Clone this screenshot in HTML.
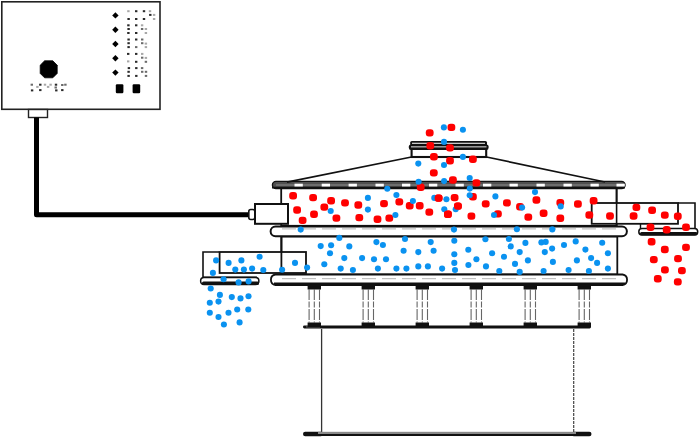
<!DOCTYPE html>
<html><head><meta charset="utf-8"><style>
html,body{margin:0;padding:0;background:#fff;width:700px;height:441px;overflow:hidden}
svg{display:block}
</style></head><body>
<svg width="700" height="441" viewBox="0 0 700 441">
<!-- control box -->
<rect x="1.8" y="1.8" width="158.2" height="107.5" fill="#fff" stroke="#222" stroke-width="1.6"/>
<polygon points="44.6,60.8 52.8,60.8 57.2,65.2 57.2,73.4 52.8,77.8 44.6,77.8 40.2,73.4 40.2,65.2" fill="#000" stroke="#000" stroke-width="0.8" stroke-linejoin="round"/>
<rect x="30.6" y="83.7" width="2.4" height="2" fill="#6a6a6a"/><rect x="39.1" y="83.7" width="2.4" height="2" fill="#2a2a2a"/><rect x="43.8" y="83.7" width="2.4" height="2" fill="#a8a8a8"/><rect x="49.4" y="83.7" width="2.4" height="2" fill="#a8a8a8"/><rect x="54.8" y="83.7" width="2.4" height="2" fill="#2a2a2a"/><rect x="61.1" y="84.0" width="2.4" height="2" fill="#6a6a6a"/><rect x="64.2" y="83.7" width="2.4" height="2" fill="#6a6a6a"/><rect x="36.2" y="85.9" width="2.4" height="2" fill="#a8a8a8"/><rect x="46.9" y="85.9" width="2.4" height="2" fill="#a8a8a8"/><rect x="54.5" y="86.5" width="2.4" height="2" fill="#6a6a6a"/><rect x="30.9" y="89.4" width="2.4" height="2" fill="#2a2a2a"/><rect x="39.1" y="89.1" width="2.4" height="2" fill="#2a2a2a"/><rect x="55.1" y="89.4" width="2.4" height="2" fill="#2a2a2a"/><rect x="61.1" y="89.1" width="2.4" height="2" fill="#2a2a2a"/>
<g fill="#000">
<polygon points="115.4,12.2 118.6,15.4 115.4,18.6 112.2,15.4"/>
<polygon points="115.4,26.5 118.6,29.7 115.4,32.9 112.2,29.7"/>
<polygon points="115.4,40.8 118.6,44.0 115.4,47.2 112.2,44.0"/>
<polygon points="115.4,55.1 118.6,58.3 115.4,61.5 112.2,58.3"/>
<polygon points="115.4,69.4 118.6,72.6 115.4,75.8 112.2,72.6"/>
</g>
<rect x="127.2" y="10.2" width="2.4" height="2" fill="#a8a8a8"/><rect x="135.0" y="10.2" width="2.4" height="2" fill="#2a2a2a"/><rect x="142.8" y="10.2" width="2.4" height="2" fill="#2a2a2a"/><rect x="148.8" y="10.2" width="2.4" height="2" fill="#a8a8a8"/><rect x="149.1" y="13.9" width="2.4" height="2" fill="#2a2a2a"/><rect x="152.9" y="13.9" width="2.4" height="2" fill="#a8a8a8"/><rect x="127.4" y="18.0" width="2.4" height="2" fill="#2a2a2a"/><rect x="135.0" y="18.0" width="2.4" height="2" fill="#2a2a2a"/><rect x="142.8" y="18.0" width="2.4" height="2" fill="#2a2a2a"/><rect x="152.9" y="18.0" width="2.4" height="2" fill="#a8a8a8"/><rect x="127.2" y="24.3" width="2.4" height="2" fill="#2a2a2a"/><rect x="135.0" y="24.3" width="2.4" height="2" fill="#2a2a2a"/><rect x="140.9" y="24.3" width="2.4" height="2" fill="#a8a8a8"/><rect x="127.4" y="28.0" width="2.4" height="2" fill="#2a2a2a"/><rect x="140.9" y="28.0" width="2.4" height="2" fill="#6a6a6a"/><rect x="144.7" y="28.0" width="2.4" height="2" fill="#a8a8a8"/><rect x="127.2" y="32.0" width="2.4" height="2" fill="#2a2a2a"/><rect x="135.0" y="32.0" width="2.4" height="2" fill="#2a2a2a"/><rect x="144.7" y="32.0" width="2.4" height="2" fill="#a8a8a8"/><rect x="127.4" y="38.5" width="2.4" height="2" fill="#2a2a2a"/><rect x="135.0" y="38.5" width="2.4" height="2" fill="#2a2a2a"/><rect x="141.0" y="38.5" width="2.4" height="2" fill="#6a6a6a"/><rect x="127.4" y="42.2" width="2.4" height="2" fill="#2a2a2a"/><rect x="141.0" y="42.2" width="2.4" height="2" fill="#6a6a6a"/><rect x="144.7" y="42.6" width="2.4" height="2" fill="#a8a8a8"/><rect x="127.4" y="46.1" width="2.4" height="2" fill="#2a2a2a"/><rect x="135.0" y="46.1" width="2.4" height="2" fill="#6a6a6a"/><rect x="144.7" y="46.1" width="2.4" height="2" fill="#a8a8a8"/><rect x="127.0" y="52.9" width="2.4" height="2" fill="#2a2a2a"/><rect x="135.0" y="52.9" width="2.4" height="2" fill="#2a2a2a"/><rect x="141.0" y="52.9" width="2.4" height="2" fill="#a8a8a8"/><rect x="141.0" y="56.7" width="2.4" height="2" fill="#6a6a6a"/><rect x="144.7" y="56.9" width="2.4" height="2" fill="#a8a8a8"/><rect x="127.0" y="60.4" width="2.4" height="2" fill="#a8a8a8"/><rect x="135.0" y="60.8" width="2.4" height="2" fill="#2a2a2a"/><rect x="144.7" y="60.8" width="2.4" height="2" fill="#6a6a6a"/><rect x="127.7" y="67.1" width="2.4" height="2" fill="#2a2a2a"/><rect x="135.1" y="67.1" width="2.4" height="2" fill="#2a2a2a"/><rect x="140.9" y="67.1" width="2.4" height="2" fill="#6a6a6a"/><rect x="127.4" y="70.8" width="2.4" height="2" fill="#2a2a2a"/><rect x="141.0" y="70.8" width="2.4" height="2" fill="#6a6a6a"/><rect x="144.8" y="70.8" width="2.4" height="2" fill="#6a6a6a"/><rect x="127.4" y="74.9" width="2.4" height="2" fill="#2a2a2a"/><rect x="135.1" y="74.9" width="2.4" height="2" fill="#2a2a2a"/><rect x="144.8" y="74.9" width="2.4" height="2" fill="#6a6a6a"/>
<rect x="115.8" y="84.2" width="7.6" height="9.1" rx="1.2" fill="#000"/>
<rect x="132.6" y="84.2" width="7.6" height="9.1" rx="1.2" fill="#000"/>
<!-- connector -->
<rect x="28.5" y="109.5" width="19" height="8" fill="#fff" stroke="#222" stroke-width="1.4"/>
<!-- cable -->
<path d="M36.5,117.5 V214.7 H249" fill="none" stroke="#000" stroke-width="5" stroke-linejoin="round"/>
<!-- stand -->
<line x1="321.6" y1="329" x2="321.6" y2="433" stroke="#333" stroke-width="1.3"/>
<line x1="573.7" y1="329" x2="573.7" y2="433" stroke="#444" stroke-width="1.2" stroke-dasharray="3,1"/>
<rect x="303" y="431.8" width="20" height="4.5" rx="2.2" fill="#111"/><rect x="571.5" y="431.8" width="20" height="4.5" rx="2.2" fill="#111"/>
<rect x="318" y="431.8" width="258" height="2.2" fill="#8a8a8a"/><rect x="318" y="434" width="258" height="2" fill="#111"/>
<!-- base ring -->
<rect x="303" y="325.6" width="288" height="2.9" rx="1.4" fill="#111"/>
<line x1="306" y1="326.9" x2="320" y2="326.9" stroke="#888" stroke-width="0.8"/>
<rect x="307.6" y="284" width="13.4" height="5.5" fill="#111"/>
<rect x="307.6" y="322.5" width="13.4" height="4.5" fill="#111"/>
<line x1="309.1" y1="289" x2="309.1" y2="323" stroke="#666" stroke-width="1.1" stroke-dasharray="11,1.5,6,1.5"/>
<line x1="314.3" y1="289" x2="314.3" y2="323" stroke="#666" stroke-width="1.1" stroke-dasharray="11,1.5,6,1.5"/>
<line x1="319.5" y1="289" x2="319.5" y2="323" stroke="#666" stroke-width="1.1" stroke-dasharray="11,1.5,6,1.5"/>
<line x1="314.3" y1="282" x2="314.3" y2="284" stroke="#111" stroke-width="1"/>
<rect x="361.6" y="284" width="13.4" height="5.5" fill="#111"/>
<rect x="361.6" y="322.5" width="13.4" height="4.5" fill="#111"/>
<line x1="363.1" y1="289" x2="363.1" y2="323" stroke="#666" stroke-width="1.1" stroke-dasharray="11,1.5,6,1.5"/>
<line x1="368.3" y1="289" x2="368.3" y2="323" stroke="#666" stroke-width="1.1" stroke-dasharray="11,1.5,6,1.5"/>
<line x1="373.5" y1="289" x2="373.5" y2="323" stroke="#666" stroke-width="1.1" stroke-dasharray="11,1.5,6,1.5"/>
<line x1="368.3" y1="282" x2="368.3" y2="284" stroke="#111" stroke-width="1"/>
<rect x="415.6" y="284" width="13.4" height="5.5" fill="#111"/>
<rect x="415.6" y="322.5" width="13.4" height="4.5" fill="#111"/>
<line x1="417.1" y1="289" x2="417.1" y2="323" stroke="#666" stroke-width="1.1" stroke-dasharray="11,1.5,6,1.5"/>
<line x1="422.3" y1="289" x2="422.3" y2="323" stroke="#666" stroke-width="1.1" stroke-dasharray="11,1.5,6,1.5"/>
<line x1="427.5" y1="289" x2="427.5" y2="323" stroke="#666" stroke-width="1.1" stroke-dasharray="11,1.5,6,1.5"/>
<line x1="422.3" y1="282" x2="422.3" y2="284" stroke="#111" stroke-width="1"/>
<rect x="469.6" y="284" width="13.4" height="5.5" fill="#111"/>
<rect x="469.6" y="322.5" width="13.4" height="4.5" fill="#111"/>
<line x1="471.1" y1="289" x2="471.1" y2="323" stroke="#666" stroke-width="1.1" stroke-dasharray="11,1.5,6,1.5"/>
<line x1="476.3" y1="289" x2="476.3" y2="323" stroke="#666" stroke-width="1.1" stroke-dasharray="11,1.5,6,1.5"/>
<line x1="481.5" y1="289" x2="481.5" y2="323" stroke="#666" stroke-width="1.1" stroke-dasharray="11,1.5,6,1.5"/>
<line x1="476.3" y1="282" x2="476.3" y2="284" stroke="#111" stroke-width="1"/>
<rect x="523.6" y="284" width="13.4" height="5.5" fill="#111"/>
<rect x="523.6" y="322.5" width="13.4" height="4.5" fill="#111"/>
<line x1="525.1" y1="289" x2="525.1" y2="323" stroke="#666" stroke-width="1.1" stroke-dasharray="11,1.5,6,1.5"/>
<line x1="530.3000000000001" y1="289" x2="530.3000000000001" y2="323" stroke="#666" stroke-width="1.1" stroke-dasharray="11,1.5,6,1.5"/>
<line x1="535.5" y1="289" x2="535.5" y2="323" stroke="#666" stroke-width="1.1" stroke-dasharray="11,1.5,6,1.5"/>
<line x1="530.3000000000001" y1="282" x2="530.3000000000001" y2="284" stroke="#111" stroke-width="1"/>
<rect x="577.6" y="284" width="13.4" height="5.5" fill="#111"/>
<rect x="577.6" y="322.5" width="13.4" height="4.5" fill="#111"/>
<line x1="579.1" y1="289" x2="579.1" y2="323" stroke="#666" stroke-width="1.1" stroke-dasharray="11,1.5,6,1.5"/>
<line x1="584.3000000000001" y1="289" x2="584.3000000000001" y2="323" stroke="#666" stroke-width="1.1" stroke-dasharray="11,1.5,6,1.5"/>
<line x1="589.5" y1="289" x2="589.5" y2="323" stroke="#666" stroke-width="1.1" stroke-dasharray="11,1.5,6,1.5"/>
<line x1="584.3000000000001" y1="282" x2="584.3000000000001" y2="284" stroke="#111" stroke-width="1"/>

<!-- lower body -->
<rect x="281.4" y="236.5" width="335.9" height="38" fill="#fff" stroke="#111" stroke-width="1.8"/>
<!-- left outlet -->
<path d="M219,252 H203 V277.2 H257" fill="none" stroke="#111" stroke-width="1.6"/>
<rect x="219.6" y="252" width="86.4" height="21" fill="#fff" stroke="#111" stroke-width="1.8"/>
<line x1="281.4" y1="236" x2="281.4" y2="273" stroke="#111" stroke-width="1.8"/>
<path d="M204,277.6 H255.5 A3.4,3.4 0 0 1 255.5,284.4 H204 A3.4,3.4 0 0 1 204,277.6 Z" fill="#fff" stroke="#111" stroke-width="1.5"/>
<rect x="202" y="281.5" width="57" height="3.4" rx="1.5" fill="#111"/>
<!-- bottom flange -->
<path d="M275.5,274.5 H622.5 A5.3,5.3 0 0 1 622.5,285 H275.5 A5.3,5.3 0 0 1 275.5,274.5 Z" fill="#fff" stroke="#111" stroke-width="1.8"/>
<line x1="274" y1="283.5" x2="625" y2="283.5" stroke="#111" stroke-width="1.8"/>
<line x1="282" y1="278.7" x2="616" y2="278.7" stroke="#aaa" stroke-width="0.9" stroke-dasharray="14,6"/>
<!-- upper body -->
<rect x="281.2" y="188" width="335.4" height="37.8" fill="#fff" stroke="#111" stroke-width="1.8"/>
<!-- middle flange -->
<path d="M275.5,226.4 H622 A4.9,4.9 0 0 1 622,236.2 H275.5 A4.9,4.9 0 0 1 275.5,226.4 Z" fill="#fff" stroke="#111" stroke-width="2"/>
<line x1="282" y1="228.9" x2="616" y2="228.9" stroke="#aaa" stroke-width="0.9" stroke-dasharray="14,6"/>
<!-- right outlet -->
<rect x="591.7" y="203" width="86.3" height="20.8" fill="#fff" stroke="#111" stroke-width="1.8"/>
<line x1="616.6" y1="188" x2="616.6" y2="226" stroke="#111" stroke-width="1.6"/>
<path d="M678,203 H695 V229" fill="none" stroke="#111" stroke-width="1.6"/>
<path d="M640.5,224 V228.5" fill="none" stroke="#111" stroke-width="1.4"/>
<path d="M642,228.6 H694.5 A3.2,3.2 0 0 1 694.5,235 H642 A3.2,3.2 0 0 1 642,228.6 Z" fill="#fff" stroke="#111" stroke-width="1.5"/>
<rect x="640" y="232" width="57.5" height="3.2" rx="1.5" fill="#111"/>
<!-- motor -->
<rect x="248.8" y="209.5" width="6" height="10" rx="2" fill="#fff" stroke="#111" stroke-width="1.6"/>
<rect x="255" y="204" width="33" height="19.8" fill="#fff" stroke="#111" stroke-width="2"/>
<!-- lid flange -->
<path d="M276,181.3 H621.5 A3.6,3.6 0 0 1 621.5,188.5 H276 A3.6,3.6 0 0 1 276,181.3 Z" fill="#505050" stroke="#111" stroke-width="1.3"/>
<rect x="276" y="184" width="345" height="2" fill="#6e6e6e"/>
<line x1="272" y1="187.6" x2="625" y2="187.6" stroke="#111" stroke-width="1.8"/>
<rect x="294.5" y="183.7" width="8.3" height="2.8" fill="#fff"/><rect x="321.7" y="183.7" width="8.3" height="2.8" fill="#fff"/><rect x="348.6" y="183.7" width="8.3" height="2.8" fill="#fff"/><rect x="375.5" y="183.7" width="8.3" height="2.8" fill="#fff"/><rect x="402" y="183.7" width="8.3" height="2.8" fill="#fff"/><rect x="429" y="183.7" width="8.3" height="2.8" fill="#fff"/><rect x="455.5" y="183.7" width="8.3" height="2.8" fill="#fff"/><rect x="483" y="183.7" width="8.3" height="2.8" fill="#fff"/><rect x="509.5" y="183.7" width="8.3" height="2.8" fill="#fff"/><rect x="536.5" y="183.7" width="8.3" height="2.8" fill="#fff"/><rect x="563.5" y="183.7" width="8.3" height="2.8" fill="#fff"/><rect x="590.5" y="183.7" width="8.3" height="2.8" fill="#fff"/><rect x="616.5" y="183.7" width="8.3" height="2.8" fill="#fff"/>
<!-- cone -->
<line x1="287" y1="182.2" x2="411.5" y2="157" stroke="#111" stroke-width="1.7"/>
<line x1="486.5" y1="157" x2="605" y2="182" stroke="#111" stroke-width="1.7"/>
<!-- inlet -->
<rect x="411.6" y="148.8" width="74.6" height="8.2" fill="#fff" stroke="#111" stroke-width="2.1"/>
<rect x="410.2" y="141" width="76.8" height="4.8" rx="1.6" fill="#111"/>
<rect x="412" y="142.7" width="73" height="1.3" fill="#c8c8c8"/>
<rect x="408.8" y="144.4" width="79.8" height="5.5" rx="2.2" fill="#111"/>
<rect x="411" y="146.1" width="75.5" height="1.4" fill="#aaa"/>
<!-- dots -->
<rect x="425.8" y="129.2" width="7.8" height="7.4" rx="3" fill="#ff0000"/>
<rect x="447.5" y="123.7" width="7.8" height="7.4" rx="3" fill="#ff0000"/>
<rect x="426.4" y="142.0" width="7.8" height="7.4" rx="3" fill="#ff0000"/>
<rect x="446.1" y="144.2" width="7.8" height="7.4" rx="3" fill="#ff0000"/>
<rect x="430.0" y="153.0" width="7.8" height="7.4" rx="3" fill="#ff0000"/>
<rect x="446.1" y="157.0" width="7.8" height="7.4" rx="3" fill="#ff0000"/>
<rect x="469.0" y="155.6" width="7.8" height="7.4" rx="3" fill="#ff0000"/>
<rect x="429.9" y="169.2" width="7.8" height="7.4" rx="3" fill="#ff0000"/>
<rect x="449.0" y="176.3" width="7.8" height="7.4" rx="3" fill="#ff0000"/>
<rect x="416.8" y="183.5" width="7.8" height="7.4" rx="3" fill="#ff0000"/>
<rect x="472.5" y="179.2" width="7.8" height="7.4" rx="3" fill="#ff0000"/>
<rect x="289.2" y="192.0" width="7.8" height="7.4" rx="3" fill="#ff0000"/>
<rect x="309.2" y="193.9" width="7.8" height="7.4" rx="3" fill="#ff0000"/>
<rect x="327.2" y="197.0" width="7.8" height="7.4" rx="3" fill="#ff0000"/>
<rect x="341.1" y="199.2" width="7.8" height="7.4" rx="3" fill="#ff0000"/>
<rect x="354.4" y="201.3" width="7.8" height="7.4" rx="3" fill="#ff0000"/>
<rect x="320.4" y="203.4" width="7.8" height="7.4" rx="3" fill="#ff0000"/>
<rect x="293.2" y="206.3" width="7.8" height="7.4" rx="3" fill="#ff0000"/>
<rect x="310.1" y="210.6" width="7.8" height="7.4" rx="3" fill="#ff0000"/>
<rect x="298.7" y="216.7" width="7.8" height="7.4" rx="3" fill="#ff0000"/>
<rect x="332.5" y="214.4" width="7.8" height="7.4" rx="3" fill="#ff0000"/>
<rect x="355.4" y="213.9" width="7.8" height="7.4" rx="3" fill="#ff0000"/>
<rect x="373.6" y="215.6" width="7.8" height="7.4" rx="3" fill="#ff0000"/>
<rect x="380.1" y="199.9" width="7.8" height="7.4" rx="3" fill="#ff0000"/>
<rect x="395.4" y="198.2" width="7.8" height="7.4" rx="3" fill="#ff0000"/>
<rect x="405.8" y="202.0" width="7.8" height="7.4" rx="3" fill="#ff0000"/>
<rect x="415.8" y="202.0" width="7.8" height="7.4" rx="3" fill="#ff0000"/>
<rect x="434.7" y="194.4" width="7.8" height="7.4" rx="3" fill="#ff0000"/>
<rect x="450.7" y="193.9" width="7.8" height="7.4" rx="3" fill="#ff0000"/>
<rect x="454.0" y="202.4" width="7.8" height="7.4" rx="3" fill="#ff0000"/>
<rect x="425.4" y="208.4" width="7.8" height="7.4" rx="3" fill="#ff0000"/>
<rect x="444.0" y="210.6" width="7.8" height="7.4" rx="3" fill="#ff0000"/>
<rect x="385.4" y="214.4" width="7.8" height="7.4" rx="3" fill="#ff0000"/>
<rect x="469.0" y="193.0" width="7.8" height="7.4" rx="3" fill="#ff0000"/>
<rect x="481.8" y="200.2" width="7.8" height="7.4" rx="3" fill="#ff0000"/>
<rect x="503.0" y="199.2" width="7.8" height="7.4" rx="3" fill="#ff0000"/>
<rect x="516.1" y="203.0" width="7.8" height="7.4" rx="3" fill="#ff0000"/>
<rect x="532.5" y="196.3" width="7.8" height="7.4" rx="3" fill="#ff0000"/>
<rect x="494.0" y="210.2" width="7.8" height="7.4" rx="3" fill="#ff0000"/>
<rect x="467.5" y="212.4" width="7.8" height="7.4" rx="3" fill="#ff0000"/>
<rect x="524.4" y="213.4" width="7.8" height="7.4" rx="3" fill="#ff0000"/>
<rect x="539.7" y="209.6" width="7.8" height="7.4" rx="3" fill="#ff0000"/>
<rect x="556.4" y="198.9" width="7.8" height="7.4" rx="3" fill="#ff0000"/>
<rect x="574.0" y="200.3" width="7.8" height="7.4" rx="3" fill="#ff0000"/>
<rect x="589.7" y="197.0" width="7.8" height="7.4" rx="3" fill="#ff0000"/>
<rect x="556.4" y="214.6" width="7.8" height="7.4" rx="3" fill="#ff0000"/>
<rect x="585.4" y="211.3" width="7.8" height="7.4" rx="3" fill="#ff0000"/>
<rect x="606.1" y="212.3" width="7.8" height="7.4" rx="3" fill="#ff0000"/>
<rect x="632.5" y="203.7" width="7.8" height="7.4" rx="3" fill="#ff0000"/>
<rect x="629.7" y="212.3" width="7.8" height="7.4" rx="3" fill="#ff0000"/>
<rect x="648.2" y="206.6" width="7.8" height="7.4" rx="3" fill="#ff0000"/>
<rect x="660.9" y="211.4" width="7.8" height="7.4" rx="3" fill="#ff0000"/>
<rect x="673.9" y="212.5" width="7.8" height="7.4" rx="3" fill="#ff0000"/>
<rect x="646.6" y="223.6" width="7.8" height="7.4" rx="3" fill="#ff0000"/>
<rect x="662.8" y="226.1" width="7.8" height="7.4" rx="3" fill="#ff0000"/>
<rect x="682.1" y="223.6" width="7.8" height="7.4" rx="3" fill="#ff0000"/>
<rect x="647.7" y="238.1" width="7.8" height="7.4" rx="3" fill="#ff0000"/>
<rect x="660.9" y="245.8" width="7.8" height="7.4" rx="3" fill="#ff0000"/>
<rect x="682.1" y="243.7" width="7.8" height="7.4" rx="3" fill="#ff0000"/>
<rect x="649.9" y="255.9" width="7.8" height="7.4" rx="3" fill="#ff0000"/>
<rect x="674.1" y="254.9" width="7.8" height="7.4" rx="3" fill="#ff0000"/>
<rect x="661.0" y="266.2" width="7.8" height="7.4" rx="3" fill="#ff0000"/>
<rect x="678.0" y="266.9" width="7.8" height="7.4" rx="3" fill="#ff0000"/>
<rect x="653.9" y="275.1" width="7.8" height="7.4" rx="3" fill="#ff0000"/>
<rect x="673.9" y="278.2" width="7.8" height="7.4" rx="3" fill="#ff0000"/>
<circle cx="443.9" cy="127.4" r="3.05" fill="#0a92f0"/>
<circle cx="462.9" cy="129.7" r="3.05" fill="#0a92f0"/>
<circle cx="444.0" cy="141.9" r="3.05" fill="#0a92f0"/>
<circle cx="462.9" cy="156.9" r="3.05" fill="#0a92f0"/>
<circle cx="418.3" cy="163.6" r="3.05" fill="#0a92f0"/>
<circle cx="444.0" cy="165.0" r="3.05" fill="#0a92f0"/>
<circle cx="418.6" cy="181.8" r="3.05" fill="#0a92f0"/>
<circle cx="444.1" cy="181.1" r="3.05" fill="#0a92f0"/>
<circle cx="469.7" cy="178.0" r="3.05" fill="#0a92f0"/>
<circle cx="387.3" cy="188.8" r="3.05" fill="#0a92f0"/>
<circle cx="396.4" cy="195.0" r="3.05" fill="#0a92f0"/>
<circle cx="469.8" cy="188.6" r="3.05" fill="#0a92f0"/>
<circle cx="469.7" cy="195.3" r="3.05" fill="#0a92f0"/>
<circle cx="367.9" cy="197.9" r="3.05" fill="#0a92f0"/>
<circle cx="367.9" cy="209.6" r="3.05" fill="#0a92f0"/>
<circle cx="330.7" cy="211.0" r="3.05" fill="#0a92f0"/>
<circle cx="412.9" cy="201.0" r="3.05" fill="#0a92f0"/>
<circle cx="434.3" cy="197.9" r="3.05" fill="#0a92f0"/>
<circle cx="446.4" cy="199.3" r="3.05" fill="#0a92f0"/>
<circle cx="444.3" cy="209.3" r="3.05" fill="#0a92f0"/>
<circle cx="455.7" cy="209.3" r="3.05" fill="#0a92f0"/>
<circle cx="395.4" cy="215.0" r="3.05" fill="#0a92f0"/>
<circle cx="495.4" cy="196.4" r="3.05" fill="#0a92f0"/>
<circle cx="535.0" cy="192.1" r="3.05" fill="#0a92f0"/>
<circle cx="522.1" cy="207.6" r="3.05" fill="#0a92f0"/>
<circle cx="494.0" cy="215.0" r="3.05" fill="#0a92f0"/>
<circle cx="560.7" cy="206.4" r="3.05" fill="#0a92f0"/>
<circle cx="300.7" cy="229.6" r="3.05" fill="#0a92f0"/>
<circle cx="454.0" cy="229.6" r="3.05" fill="#0a92f0"/>
<circle cx="516.9" cy="229.3" r="3.05" fill="#0a92f0"/>
<circle cx="552.3" cy="229.4" r="3.05" fill="#0a92f0"/>
<circle cx="339.3" cy="237.9" r="3.05" fill="#0a92f0"/>
<circle cx="320.7" cy="246.1" r="3.05" fill="#0a92f0"/>
<circle cx="331.1" cy="245.3" r="3.05" fill="#0a92f0"/>
<circle cx="349.3" cy="246.4" r="3.05" fill="#0a92f0"/>
<circle cx="376.4" cy="242.1" r="3.05" fill="#0a92f0"/>
<circle cx="330.0" cy="253.3" r="3.05" fill="#0a92f0"/>
<circle cx="344.3" cy="258.1" r="3.05" fill="#0a92f0"/>
<circle cx="362.1" cy="258.1" r="3.05" fill="#0a92f0"/>
<circle cx="374.0" cy="259.3" r="3.05" fill="#0a92f0"/>
<circle cx="295.0" cy="262.9" r="3.05" fill="#0a92f0"/>
<circle cx="324.3" cy="264.3" r="3.05" fill="#0a92f0"/>
<circle cx="307.1" cy="267.6" r="3.05" fill="#0a92f0"/>
<circle cx="282.1" cy="269.8" r="3.05" fill="#0a92f0"/>
<circle cx="340.7" cy="268.6" r="3.05" fill="#0a92f0"/>
<circle cx="352.9" cy="270.0" r="3.05" fill="#0a92f0"/>
<circle cx="377.9" cy="268.6" r="3.05" fill="#0a92f0"/>
<circle cx="382.9" cy="245.0" r="3.05" fill="#0a92f0"/>
<circle cx="405.0" cy="239.0" r="3.05" fill="#0a92f0"/>
<circle cx="430.7" cy="242.1" r="3.05" fill="#0a92f0"/>
<circle cx="454.3" cy="240.7" r="3.05" fill="#0a92f0"/>
<circle cx="403.6" cy="250.7" r="3.05" fill="#0a92f0"/>
<circle cx="418.3" cy="252.1" r="3.05" fill="#0a92f0"/>
<circle cx="433.6" cy="250.7" r="3.05" fill="#0a92f0"/>
<circle cx="454.3" cy="254.3" r="3.05" fill="#0a92f0"/>
<circle cx="386.0" cy="259.3" r="3.05" fill="#0a92f0"/>
<circle cx="454.3" cy="262.9" r="3.05" fill="#0a92f0"/>
<circle cx="396.4" cy="268.6" r="3.05" fill="#0a92f0"/>
<circle cx="406.4" cy="268.6" r="3.05" fill="#0a92f0"/>
<circle cx="418.3" cy="266.4" r="3.05" fill="#0a92f0"/>
<circle cx="427.9" cy="266.4" r="3.05" fill="#0a92f0"/>
<circle cx="442.1" cy="268.6" r="3.05" fill="#0a92f0"/>
<circle cx="455.0" cy="270.0" r="3.05" fill="#0a92f0"/>
<circle cx="485.4" cy="239.3" r="3.05" fill="#0a92f0"/>
<circle cx="508.9" cy="239.0" r="3.05" fill="#0a92f0"/>
<circle cx="510.7" cy="246.4" r="3.05" fill="#0a92f0"/>
<circle cx="525.4" cy="242.9" r="3.05" fill="#0a92f0"/>
<circle cx="541.4" cy="242.4" r="3.05" fill="#0a92f0"/>
<circle cx="545.7" cy="241.9" r="3.05" fill="#0a92f0"/>
<circle cx="552.1" cy="248.6" r="3.05" fill="#0a92f0"/>
<circle cx="468.3" cy="249.8" r="3.05" fill="#0a92f0"/>
<circle cx="492.1" cy="253.3" r="3.05" fill="#0a92f0"/>
<circle cx="519.7" cy="252.1" r="3.05" fill="#0a92f0"/>
<circle cx="544.8" cy="252.1" r="3.05" fill="#0a92f0"/>
<circle cx="476.4" cy="259.3" r="3.05" fill="#0a92f0"/>
<circle cx="504.0" cy="256.7" r="3.05" fill="#0a92f0"/>
<circle cx="527.9" cy="260.4" r="3.05" fill="#0a92f0"/>
<circle cx="552.9" cy="261.9" r="3.05" fill="#0a92f0"/>
<circle cx="468.4" cy="265.0" r="3.05" fill="#0a92f0"/>
<circle cx="486.0" cy="266.4" r="3.05" fill="#0a92f0"/>
<circle cx="515.0" cy="263.9" r="3.05" fill="#0a92f0"/>
<circle cx="499.3" cy="271.0" r="3.05" fill="#0a92f0"/>
<circle cx="519.7" cy="271.9" r="3.05" fill="#0a92f0"/>
<circle cx="543.6" cy="271.0" r="3.05" fill="#0a92f0"/>
<circle cx="564.0" cy="245.0" r="3.05" fill="#0a92f0"/>
<circle cx="575.7" cy="241.4" r="3.05" fill="#0a92f0"/>
<circle cx="585.4" cy="249.6" r="3.05" fill="#0a92f0"/>
<circle cx="602.2" cy="242.7" r="3.05" fill="#0a92f0"/>
<circle cx="607.9" cy="253.3" r="3.05" fill="#0a92f0"/>
<circle cx="591.1" cy="258.1" r="3.05" fill="#0a92f0"/>
<circle cx="576.9" cy="260.4" r="3.05" fill="#0a92f0"/>
<circle cx="597.1" cy="262.9" r="3.05" fill="#0a92f0"/>
<circle cx="568.6" cy="270.0" r="3.05" fill="#0a92f0"/>
<circle cx="588.9" cy="271.0" r="3.05" fill="#0a92f0"/>
<circle cx="607.9" cy="268.6" r="3.05" fill="#0a92f0"/>
<circle cx="216.1" cy="260.4" r="3.05" fill="#0a92f0"/>
<circle cx="228.6" cy="262.9" r="3.05" fill="#0a92f0"/>
<circle cx="241.4" cy="260.4" r="3.05" fill="#0a92f0"/>
<circle cx="259.6" cy="256.7" r="3.05" fill="#0a92f0"/>
<circle cx="235.3" cy="269.6" r="3.05" fill="#0a92f0"/>
<circle cx="243.9" cy="269.6" r="3.05" fill="#0a92f0"/>
<circle cx="252.1" cy="268.6" r="3.05" fill="#0a92f0"/>
<circle cx="263.3" cy="270.0" r="3.05" fill="#0a92f0"/>
<circle cx="212.9" cy="272.9" r="3.05" fill="#0a92f0"/>
<circle cx="223.6" cy="279.3" r="3.05" fill="#0a92f0"/>
<circle cx="238.6" cy="282.4" r="3.05" fill="#0a92f0"/>
<circle cx="248.6" cy="281.4" r="3.05" fill="#0a92f0"/>
<circle cx="210.7" cy="288.5" r="3.05" fill="#0a92f0"/>
<circle cx="219.9" cy="294.9" r="3.05" fill="#0a92f0"/>
<circle cx="231.8" cy="297.1" r="3.05" fill="#0a92f0"/>
<circle cx="240.5" cy="298.4" r="3.05" fill="#0a92f0"/>
<circle cx="248.5" cy="296.2" r="3.05" fill="#0a92f0"/>
<circle cx="209.8" cy="302.7" r="3.05" fill="#0a92f0"/>
<circle cx="218.5" cy="301.6" r="3.05" fill="#0a92f0"/>
<circle cx="209.8" cy="312.7" r="3.05" fill="#0a92f0"/>
<circle cx="218.5" cy="317.0" r="3.05" fill="#0a92f0"/>
<circle cx="228.5" cy="312.8" r="3.05" fill="#0a92f0"/>
<circle cx="237.2" cy="309.5" r="3.05" fill="#0a92f0"/>
<circle cx="248.3" cy="309.5" r="3.05" fill="#0a92f0"/>
<circle cx="223.9" cy="324.5" r="3.05" fill="#0a92f0"/>
<circle cx="239.6" cy="322.4" r="3.05" fill="#0a92f0"/>
<rect x="434.7" y="194.4" width="7.8" height="7.4" rx="3" fill="#ff0000"/>
<rect x="454.0" y="202.4" width="7.8" height="7.4" rx="3" fill="#ff0000"/>
<rect x="444.0" y="210.6" width="7.8" height="7.4" rx="3" fill="#ff0000"/>
</svg>
</body></html>
